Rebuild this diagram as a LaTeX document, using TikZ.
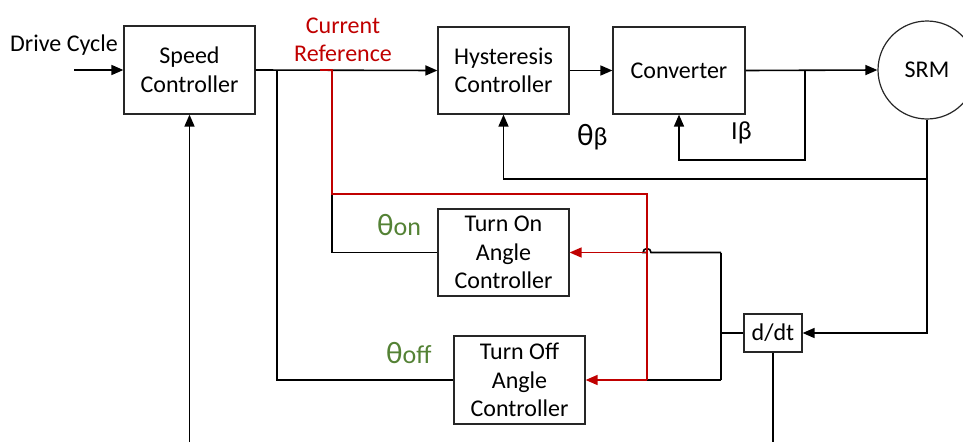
\documentclass[tikz,border=0pt]{standalone}
\usepackage{fontspec}
\setmainfont{Carlito}
\usetikzlibrary{arrows.meta,calc}
\definecolor{refred}{HTML}{C00000}
\definecolor{angg}{HTML}{548235}
\tikzset{
  blk/.style={draw=black!85, line width=1.2pt, rectangle, align=center, inner sep=0pt,
     font=\fontsize{24}{28.5}\selectfont},
  wire/.style={line width=1.6pt, black},
  rwire/.style={line width=1.6pt, refred},
  arr/.style={-{Triangle[length=12pt,width=10pt]}},
  lbl/.style={inner sep=0pt, font=\fontsize{24}{28.5}\selectfont},
}
\newcommand{\bigth}{{\fontsize{31}{30}\selectfont θ}}
\begin{document}
\begin{tikzpicture}[x=1pt,y=-1pt]
\useasboundingbox (0,0) rectangle (963,442);
% blocks
\node[blk, minimum width=131pt, minimum height=88pt] (sc) at (189.5,70) {Speed\\Controller};
\node[blk, minimum width=131pt, minimum height=87pt] (hc) at (503.5,70.5) {Hysteresis\\Controller};
\node[blk, minimum width=132pt, minimum height=87pt] (conv) at (679,70.5) {Converter};
\node[blk, circle, minimum size=98pt] (srm) at (927,70) {SRM};
\node[blk, minimum width=131pt, minimum height=87pt] (ton) at (503.5,252.5) {Turn On\\Angle\\Controller};
\node[blk, minimum width=131pt, minimum height=88pt] (toff) at (519.5,380) {Turn Off\\Angle\\Controller};
\node[blk, minimum width=58pt, minimum height=38pt] (ddt) at (773,333) {d/dt};
% coordinates
\coordinate (dc) at (74,70);
\coordinate (bot1) at (189.5,442);
\coordinate (bot2) at (773,442);
\coordinate (b1) at (277,70);
\coordinate (b2) at (332,70);
\coordinate (b3) at (805,70);
\coordinate (c1) at (805,160);
\coordinate (b4) at (927,179);
\coordinate (j1) at (721,333);
\coordinate (j2) at (721,252.5);
\coordinate (j3) at (721,380);
\coordinate (h1) at (651,252.5);
\coordinate (r0) at (320,70);
\coordinate (r1) at (332,194);
\coordinate (r2) at (647,194);
\coordinate (r3) at (647,252.5);
\coordinate (r4) at (647,380);
% labels
\node[lbl] at (64,45) {Drive Cycle};
\node[lbl, text=refred, align=center] at (343,40) {Current\\Reference};
\node[lbl, anchor=base west] at (577,145) {\bigth{\fontsize{26}{28}\selectfont β}};
\node[lbl, anchor=base west, font=\fontsize{26}{28}\selectfont] at (731,139) {Iβ};
\node[lbl, anchor=base west, text=angg, font=\fontsize{26}{28}\selectfont] at (377,235.5) {\bigth on};
\node[lbl, anchor=base west, text=angg, font=\fontsize{26}{28}\selectfont] at (386,363.5) {\bigth off};
% black connectors
\draw[wire, arr] (dc) -- (sc.west);
\draw[wire, arr] (bot1) -- (sc.south);
\draw[wire, arr] (sc.east) -- (hc.west);
\draw[wire] (b1) |- (toff.west);
\draw[wire] (b2) |- (ton.west);
\draw[wire, arr] (hc.east) -- (conv.west);
\draw[wire, arr] (conv.east) -- (srm.west);
\draw[wire, arr] (b3) -- (c1) -| (conv.south);
\draw[wire, arr] (srm.south) |- (ddt.east);
\draw[wire, arr] (b4) -| (hc.south);
\draw[wire] (ddt.west) -- (j1);
\draw[wire] (j2) -- (j3);
\draw[wire] (j2) -- (h1) arc[start angle=0, end angle=180, radius=4pt] -- (r3);
\draw[wire] (j3) -- (r4);
\draw[wire] (ddt.south) -- (bot2);
% red reference path
\draw[rwire] (r0) -- (b2) -- (r1) -- (r2) -- (r4);
\draw[rwire, arr] (r3) -- (ton.east);
\draw[rwire, arr] (r4) -- (toff.east);
\end{tikzpicture}
\end{document}
